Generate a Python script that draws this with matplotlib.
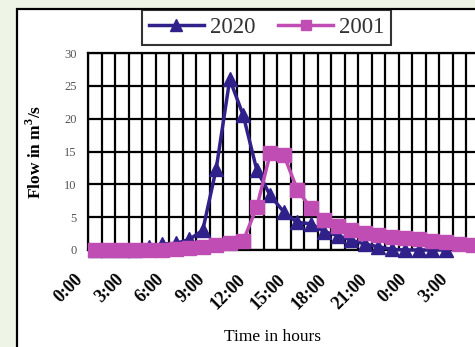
import numpy as np
import matplotlib
matplotlib.use('Agg')
import matplotlib.pyplot as plt
from matplotlib.patches import Rectangle
from matplotlib.transforms import ScaledTranslation

# hourly flow, one value per hour starting at 0:00
flow_2020 = [0, 0, 0, 0, 0.5, 0.9, 1.0, 1.6, 3.0, 12.4, 26.0, 20.5, 12.2,
             8.3, 5.8, 4.2, 4.0, 2.8, 2.2, 1.5, 0.9, 0.5, 0.1, 0, 0, 0, 0]
flow_2001 = [0, 0, 0, 0, 0, 0, 0.1, 0.3, 0.5, 0.7, 1.0, 1.4, 6.5,
             14.7, 14.5, 9.2, 6.4, 4.5, 3.6, 3.0, 2.6, 2.3, 2.0, 1.8, 1.6,
             1.4, 1.2, 0.9, 0.7, 0.5, 0.3]
time_labels = ['0:00', '3:00', '6:00', '9:00', '12:00', '15:00', '18:00',
               '21:00', '0:00', '3:00']
n_hours = 31

blue = '#30208a'
pink = '#bf4db4'

W, H = 475, 347
fig = plt.figure(figsize=(W / 100, H / 100), dpi=100, facecolor='#eef5e7')

# white panel with black border (runs off the right and bottom edge)
fig.patches.append(Rectangle((17 / W, -0.1), 1.2, 1.1 - 9 / H,
                             transform=fig.transFigure, facecolor='white',
                             edgecolor='black', linewidth=1.6, zorder=-5))

x0, x1 = 88, 88 + n_hours * 13.5
y0, y1 = 250, 53
ax = fig.add_axes([x0 / W, 1 - y0 / H, (x1 - x0) / W, (y0 - y1) / H])
ax.set_facecolor('white')

ax.plot(np.arange(len(flow_2020)) + 0.5, flow_2020, color=blue, lw=2.5,
        marker='^', ms=10, mec=blue, mfc=blue, clip_on=False, zorder=3,
        label='2020')
ax.plot(np.arange(len(flow_2001)) + 0.5, flow_2001, color=pink, lw=2.5,
        marker='s', ms=9.5, mec=pink, mfc=pink, clip_on=False, zorder=4,
        label='2001')

ax.set_xlim(0, n_hours)
ax.set_ylim(0, 30)
ax.set_xticks(np.arange(n_hours + 1), minor=True)
ax.set_xticks(np.arange(len(time_labels)) * 3 + 0.5)
ax.set_xticklabels(time_labels, rotation=45, ha='right', va='top',
                   rotation_mode='anchor', fontweight='bold',
                   family='Liberation Serif', fontsize=13)
ax.set_yticks(np.arange(0, 31, 5))
ax.set_yticklabels([str(v) for v in range(0, 31, 5)],
                   family='Liberation Serif', fontsize=9, color='#555555')
ax.tick_params(axis='x', which='both', length=0, pad=15)
ax.tick_params(axis='y', length=0, pad=8)

off = ScaledTranslation(-0.2, 0, fig.dpi_scale_trans)
for lab in ax.get_xticklabels():
    lab.set_transform(lab.get_transform() + off)

ax.grid(True, axis='x', which='minor', color='black', lw=1.6)
ax.grid(True, axis='y', which='major', color='black', lw=1.6)
ax.set_axisbelow(True)
for s in ax.spines.values():
    s.set_color('black')
    s.set_linewidth(1.6)

fig.text(35 / W, 1 - 152 / H, 'Flow in m$^\\mathregular{3}$/s', rotation=90,
         ha='center', va='center', fontweight='bold',
         family='Liberation Serif', fontsize=12.5)
fig.text(272 / W, 1 - 337 / H, 'Time in hours', ha='center', va='center',
         family='Liberation Serif', fontsize=12.5)

leg = fig.legend(loc='upper left', bbox_to_anchor=(142 / W, 1 - 10 / H),
                 ncol=2, frameon=True, fancybox=False, edgecolor='black',
                 prop={'family': 'Liberation Serif', 'size': 16.5},
                 handlelength=2.4, handletextpad=0.25, columnspacing=1.0,
                 borderpad=0.3, borderaxespad=0, markerscale=0.8)
leg.get_frame().set_linewidth(1.5)
for t in leg.get_texts():
    t.set_color('#333333')

fig.savefig('out.png', dpi=100, facecolor=fig.get_facecolor())
